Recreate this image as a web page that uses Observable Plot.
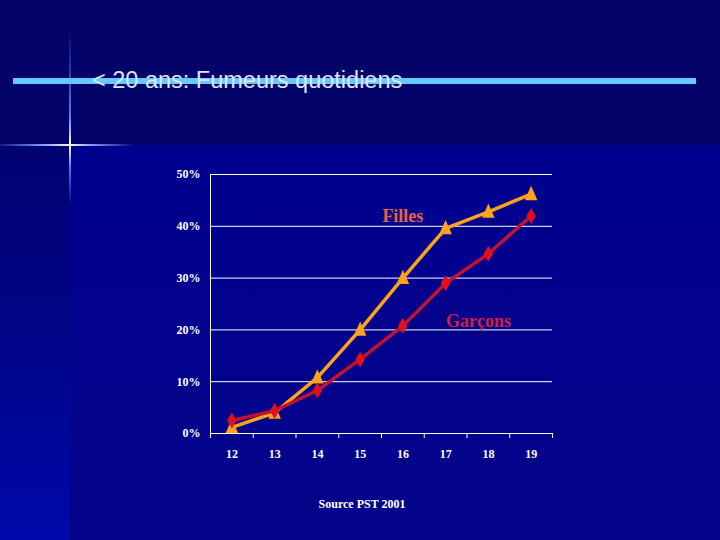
<!DOCTYPE html>
<html><head><meta charset="utf-8">
<script src="https://cdn.jsdelivr.net/npm/d3@7"></script>
<script src="https://cdn.jsdelivr.net/npm/@observablehq/plot@0.6"></script>
<style>
html,body{margin:0;padding:0;}
body{width:720px;height:540px;overflow:hidden;position:relative;background:#03036a;}
#lower{position:absolute;left:0;top:145px;width:720px;height:395px;background:linear-gradient(180deg,#00008f 0%,#04048a 100%);}
#strip{position:absolute;left:0;top:145px;width:70px;height:395px;background:linear-gradient(180deg,#020270 0%,#000585 45%,#0008aa 100%);}
#vstar{position:absolute;left:69px;top:30px;width:2px;height:175px;background:linear-gradient(180deg,rgba(120,160,255,0) 0%,#5a7cff 50%,#ffffff 66%,#5a7cff 78%,rgba(120,160,255,0) 100%);}
#hstar{position:absolute;left:0;top:144px;width:135px;height:2px;background:linear-gradient(90deg,rgba(90,120,255,0.2) 0%,#90a8ff 35%,#ffffff 52%,#90a8ff 65%,rgba(90,120,255,0) 100%);}
#bar{position:absolute;left:13px;top:78px;width:683px;height:6px;background:#66c8ff;}
#title{position:absolute;left:92px;top:65px;font-family:"Liberation Sans",sans-serif;font-size:23.5px;color:#dde4f4;white-space:nowrap;line-height:30px;}
#chart{position:absolute;left:0;top:0;}
#source{position:absolute;left:0;width:724px;top:497px;text-align:center;font-family:"Liberation Serif",serif;font-weight:bold;font-size:12px;color:#ffffff;}
</style>
</head><body>
<div id="lower"></div>
<div id="strip"></div>
<div id="vstar"></div>
<div id="hstar"></div>
<div id="bar"></div>
<div id="title">&lt; 20 ans: Fumeurs quotidiens</div>
<div id="chart"></div>
<div id="source">Source PST 2001</div>
<script>
// Data (ages and daily smokers in %)
const ages = [12, 13, 14, 15, 16, 17, 18, 19];
const filles = [1.2, 4.0, 10.8, 20.0, 30.0, 39.6, 42.8, 46.2];
const garcons = [2.5, 4.4, 8.3, 14.3, 20.8, 29.0, 34.7, 42.0];
const yTicks = [0, 10, 20, 30, 40, 50];
const seriesNames = ["Filles", "Garçons"];
// label anchor in data coordinates (age, %)
const labelAge = [16.0, 17.77];
const labelPct = [41.9, 21.6];

const fData = ages.map((a, i) => ({age: a, v: filles[i]}));
const gData = ages.map((a, i) => ({age: a, v: garcons[i]}));
const boundaries = ages.map(a => a - 0.5).concat([ages[ages.length - 1] + 0.5]);
const labels = seriesNames.map((n, i) => ({name: n, age: labelAge[i], v: labelPct[i]}));

const triangle = {draw(ctx, size) {
  const w = Math.sqrt(size / Math.PI);
  ctx.moveTo(0, -1.2 * w); ctx.lineTo(0.9 * w, 0.85 * w); ctx.lineTo(-0.9 * w, 0.85 * w); ctx.closePath();
}};
const diamond = {draw(ctx, size) {
  const w = Math.sqrt(size / Math.PI);
  ctx.moveTo(0, -1.6 * w); ctx.lineTo(0.95 * w, 0); ctx.lineTo(0, 1.6 * w); ctx.lineTo(-0.95 * w, 0); ctx.closePath();
}};

const chart = Plot.plot({
  width: 720,
  height: 540,
  marginLeft: 210,
  marginRight: 168,
  marginTop: 174,
  marginBottom: 107,
  style: {background: "transparent", color: "white", fontFamily: "'Liberation Serif', serif", fontWeight: "bold", fontSize: "12px"},
  x: {domain: [ages[0] - 0.5, ages[ages.length - 1] + 0.5], label: null},
  y: {domain: [0, 50], label: null},
  marks: [
    Plot.gridY(yTicks, {stroke: "white", strokeOpacity: 1, strokeWidth: 1}),
    Plot.ruleX([boundaries[0]], {stroke: "white", strokeWidth: 1}),
    Plot.ruleY([0], {stroke: "white", strokeWidth: 1}),
    Plot.axisX(boundaries, {tickSize: 5, tickFormat: () => "", stroke: "white"}),
    Plot.axisX(ages, {tickSize: 0, tickPadding: 16, tickFormat: d => String(d), fill: "white"}),
    Plot.axisY(yTicks, {tickSize: 0, tickPadding: 10, tickFormat: d => d + "%", fill: "white"}),
    Plot.line(fData, {x: "age", y: "v", stroke: "#ffa21c", strokeWidth: 3.5}),
    Plot.dot(fData, {x: "age", y: "v", symbol: triangle, r: 7, fill: "#ffa21c", stroke: "none"}),
    Plot.line(gData, {x: "age", y: "v", stroke: "#c4122e", strokeWidth: 3.5}),
    Plot.dot(gData, {x: "age", y: "v", symbol: diamond, r: 5, fill: "#e0101c", stroke: "none"}),
    Plot.text(labels, {x: "age", y: "v", text: "name", fill: (d, i) => i === 0 ? "#e8643c" : "#d21f3c", fontSize: 18, fontWeight: "bold", fontFamily: "'Liberation Serif', serif"})
  ]
});
document.getElementById("chart").appendChild(chart);
</script>
</body></html>
